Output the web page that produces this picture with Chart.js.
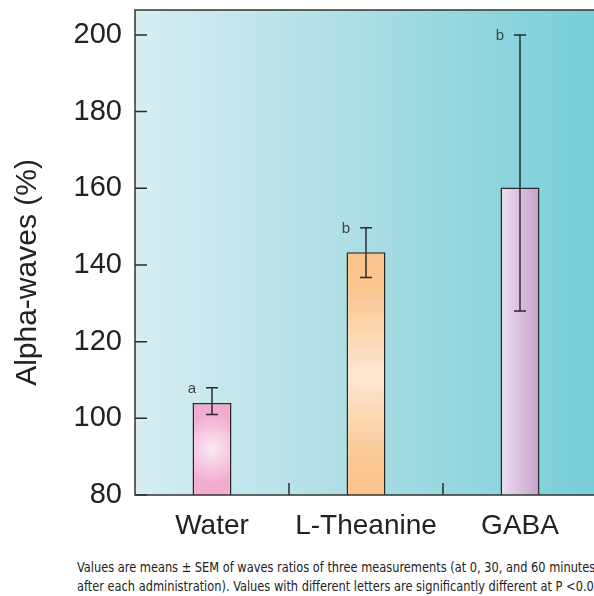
<!DOCTYPE html>
<html lang="en">
<head>
    <meta charset="UTF-8">
    <title>Alpha-waves</title>
    <script src="https://cdn.jsdelivr.net/npm/chart.js"></script>
    <style>
        body {
            margin: 0;
            background: #ffffff;
            overflow: hidden;
            width: 594px;
            height: 596px;
        }
        .wrap {
            position: absolute;
            left: 0;
            top: 0;
            width: 600px;
            height: 550px;
        }
        .note {
            position: absolute;
            left: 77px;
            top: 558px;
            font-family: 'Liberation Sans Narrow', 'DejaVu Sans Condensed', sans-serif;
            font-size: 14px;
            line-height: 19px;
            color: #222;
            white-space: nowrap;
            transform: scaleX(0.905);
            transform-origin: left top;
        }
    </style>
</head>
<body>
    <div class="wrap"><canvas id="alphaChart"></canvas></div>
    <div class="note">
        Values are means ± SEM of waves ratios of three measurements (at 0, 30, and 60 minutes<br>
        after each administration). Values with different letters are significantly different at P &lt;0.05
    </div>

    <script>
        const categories = ['Water', 'L-Theanine', 'GABA'];
        const means = [104, 143.3, 160.2];
        const errHigh = [108, 149.7, 200];
        const errLow = [101, 136.7, 128];
        const letters = ['a', 'b', 'b'];
        const yMin = 80, yMax = 206.5, yStep = 20;

        // fill for each bar, built from its own position on the scales
        function barFill(context) {
            const chart = context.chart;
            const area = chart.chartArea;
            const i = context.dataIndex;
            if (!area || i === undefined) return '#f4b0d2';
            const c = chart.ctx;
            const x = chart.scales.x.getPixelForValue(i);
            const top = chart.scales.y.getPixelForValue(means[i]);
            const bottom = area.bottom;
            if (i === 0) {
                const cy = top + (bottom - top) * 0.5;
                const g = c.createRadialGradient(x, cy, 0, x, cy, 34);
                g.addColorStop(0, '#faeaf2');
                g.addColorStop(1, '#f3accf');
                return g;
            }
            if (i === 1) {
                const g = c.createLinearGradient(0, top, 0, bottom);
                g.addColorStop(0, '#fbc38c');
                g.addColorStop(0.15, '#fbc68f');
                g.addColorStop(0.51, '#fde7d3');
                g.addColorStop(0.85, '#fbc893');
                g.addColorStop(1, '#fbc38c');
                return g;
            }
            const g = c.createLinearGradient(x - 20, 0, x + 20, 0);
            g.addColorStop(0, '#ebe0ef');
            g.addColorStop(1, '#c7a1ca');
            return g;
        }

        const panel = {
            id: 'panel',
            beforeDatasetsDraw(chart) {
                const {ctx, chartArea: a} = chart;
                const g = ctx.createLinearGradient(a.left, 0, a.right, 0);
                g.addColorStop(0, '#d6eef2');
                g.addColorStop(0.5, '#abdde4');
                g.addColorStop(1, '#77ced9');
                ctx.save();
                ctx.fillStyle = g;
                ctx.fillRect(a.left, a.top, a.right - a.left, a.bottom - a.top);
                ctx.restore();
            },
            afterDatasetsDraw(chart) {
                const {ctx, chartArea: a, scales: {x, y}} = chart;
                ctx.save();
                ctx.strokeStyle = '#2b2b2b';
                ctx.lineWidth = 1.5;

                // error bars
                means.forEach((m, i) => {
                    const px = x.getPixelForValue(i);
                    const hi = y.getPixelForValue(errHigh[i]);
                    const lo = y.getPixelForValue(errLow[i]);
                    ctx.beginPath();
                    ctx.moveTo(px, hi); ctx.lineTo(px, lo);
                    ctx.moveTo(px - 6, hi); ctx.lineTo(px + 6, hi);
                    ctx.moveTo(px - 6, lo); ctx.lineTo(px + 6, lo);
                    ctx.stroke();

                    ctx.fillStyle = '#444';
                    ctx.font = '15px "Liberation Sans", Arial, sans-serif';
                    ctx.textAlign = 'center';
                    ctx.textBaseline = 'alphabetic';
                    ctx.fillText(letters[i], px - 20, hi + 5);
                });

                // inward ticks
                ctx.beginPath();
                y.ticks.forEach(t => {
                    const py = y.getPixelForValue(t.value);
                    ctx.moveTo(a.left, py); ctx.lineTo(a.left + 12, py);
                });
                for (let i = 0; i < categories.length - 1; i++) {
                    const px = (x.getPixelForValue(i) + x.getPixelForValue(i + 1)) / 2;
                    ctx.moveTo(px, a.bottom); ctx.lineTo(px, a.bottom - 12);
                }
                ctx.stroke();

                // frame
                ctx.strokeStyle = '#333';
                ctx.strokeRect(a.left, a.top, a.right - a.left, a.bottom - a.top);

                // y title
                ctx.fillStyle = '#222';
                ctx.font = '30px "Liberation Sans", Arial, sans-serif';
                ctx.textAlign = 'center';
                ctx.textBaseline = 'middle';
                ctx.translate(28, (a.top + a.bottom) / 2 + 20);
                ctx.rotate(-Math.PI / 2);
                ctx.fillText('Alpha-waves (%)', 0, 0);
                ctx.restore();
            }
        };

        new Chart(document.getElementById('alphaChart'), {
            type: 'bar',
            data: {
                labels: categories,
                datasets: [{
                    data: means,
                    backgroundColor: barFill,
                    borderColor: '#2b2b2b',
                    borderWidth: 1.5,
                    borderSkipped: false,
                    barPercentage: 0.253,
                    categoryPercentage: 1
                }]
            },
            options: {
                responsive: true,
                maintainAspectRatio: false,
                animation: false,
                devicePixelRatio: 1,
                layout: { padding: { top: 10, right: 3, left: 0, bottom: 0 } },
                plugins: {
                    legend: { display: false },
                    tooltip: { enabled: false }
                },
                scales: {
                    x: {
                        grid: { display: false, drawTicks: false },
                        border: { display: false },
                        ticks: {
                            color: '#222',
                            padding: 14,
                            font: { family: '"Liberation Sans", Arial, sans-serif', size: 28 }
                        },
                        afterFit(scale) {
                            scale.height = 55;
                            scale.paddingLeft = 0;
                            scale.paddingRight = 0;
                        }
                    },
                    y: {
                        min: yMin,
                        max: yMax,
                        grid: { display: false, drawTicks: false },
                        border: { display: false },
                        ticks: {
                            stepSize: yStep,
                            includeBounds: false,
                            color: '#222',
                            padding: 13,
                            font: { family: '"Liberation Sans", Arial, sans-serif', size: 29 }
                        },
                        afterBuildTicks(scale) {
                            scale.ticks = scale.ticks.filter(t => t.value % yStep === 0);
                        },
                        afterFit(scale) {
                            scale.width = 135;
                            scale.paddingTop = 0;
                            scale.paddingBottom = 0;
                        }
                    }
                }
            },
            plugins: [panel]
        });
    </script>
</body>
</html>
